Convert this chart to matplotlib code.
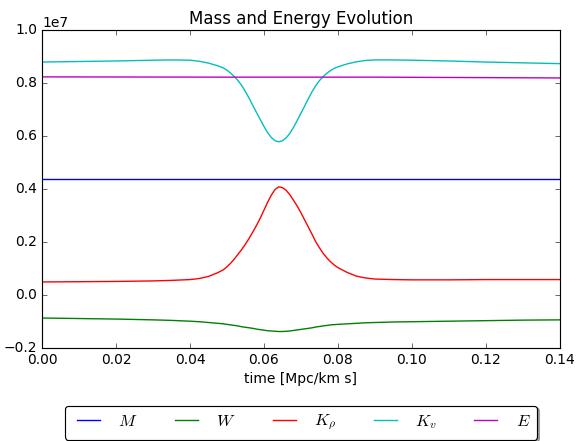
import numpy as np
import matplotlib
matplotlib.use('Agg')
import matplotlib.pyplot as plt

plt.style.use('classic')

# time samples [Mpc/km s]
t = [0.0, 0.01, 0.02, 0.03, 0.035, 0.04, 0.0425, 0.045, 0.0475, 0.049,
     0.050, 0.051, 0.052, 0.053, 0.054, 0.055, 0.056, 0.057, 0.058, 0.059,
     0.060, 0.061, 0.062, 0.063, 0.064, 0.065, 0.066, 0.067, 0.068, 0.069,
     0.070, 0.071, 0.072, 0.073, 0.074, 0.075, 0.076, 0.077, 0.078, 0.079,
     0.080, 0.0825, 0.085, 0.0875, 0.09, 0.095, 0.10, 0.11, 0.12, 0.13, 0.14]

# values in units of 1e7
K_v = [0.879, 0.881, 0.883, 0.886, 0.887, 0.886, 0.882, 0.875, 0.865, 0.857,
       0.848, 0.837, 0.824, 0.809, 0.790, 0.767, 0.742, 0.715, 0.688, 0.662,
       0.636, 0.612, 0.594, 0.582, 0.578, 0.582, 0.593, 0.610, 0.633, 0.659,
       0.686, 0.713, 0.741, 0.767, 0.790, 0.809, 0.824, 0.837, 0.847, 0.855,
       0.861, 0.872, 0.880, 0.885, 0.887, 0.887, 0.886, 0.883, 0.879, 0.876, 0.873]

K_rho = [0.049, 0.050, 0.051, 0.053, 0.055, 0.058, 0.062, 0.070, 0.084, 0.095,
         0.106, 0.120, 0.136, 0.154, 0.172, 0.192, 0.214, 0.238, 0.263, 0.290,
         0.320, 0.350, 0.377, 0.398, 0.408, 0.405, 0.395, 0.378, 0.357, 0.335,
         0.310, 0.283, 0.256, 0.229, 0.201, 0.178, 0.157, 0.140, 0.125, 0.113,
         0.103, 0.085, 0.071, 0.064, 0.060, 0.058, 0.057, 0.057, 0.058, 0.058, 0.058]

W = [-0.087, -0.089, -0.091, -0.094, -0.096, -0.099, -0.101, -0.104, -0.107, -0.109,
     -0.111, -0.113, -0.115, -0.117, -0.120, -0.122, -0.124, -0.126, -0.129, -0.131,
     -0.133, -0.135, -0.136, -0.137, -0.138, -0.138, -0.137, -0.136, -0.134, -0.132,
     -0.130, -0.128, -0.126, -0.124, -0.121, -0.119, -0.117, -0.115, -0.113, -0.112,
     -0.111, -0.109, -0.107, -0.105, -0.104, -0.102, -0.101, -0.099, -0.097, -0.095, -0.094]

t_M = [0.0, 0.14]
M = [0.438, 0.438]

t_E = [0.0, 0.05, 0.09, 0.14]
E = [0.823, 0.822, 0.822, 0.819]

scale = 1e7

fig = plt.figure(figsize=(576 / 83, 441 / 83), dpi=83)
ax = fig.add_axes([0.073, 0.211, 0.899, 0.721])

lw = 1.2
ax.plot(t_M, np.array(M) * scale, color='b', lw=lw, label='$M$')
ax.plot(t, np.array(W) * scale, color='g', lw=lw, label='$W$')
ax.plot(t, np.array(K_rho) * scale, color='r', lw=lw, label=r'$K_\rho$')
ax.plot(t, np.array(K_v) * scale, color='c', lw=lw, label='$K_v$')
ax.plot(t_E, np.array(E) * scale, color='m', lw=lw, label='$E$')

ax.set_xlim(0, 0.14)
ax.set_ylim(-0.2e7, 1.0e7)
ax.set_xlabel('time [Mpc/km s]')
ax.set_title('Mass and Energy Evolution')

ax.legend(loc='upper center', bbox_to_anchor=(0.5, -0.155), ncol=5,
          fancybox=True, shadow=True, columnspacing=1.95)

fig.savefig('out.png', dpi=83)
